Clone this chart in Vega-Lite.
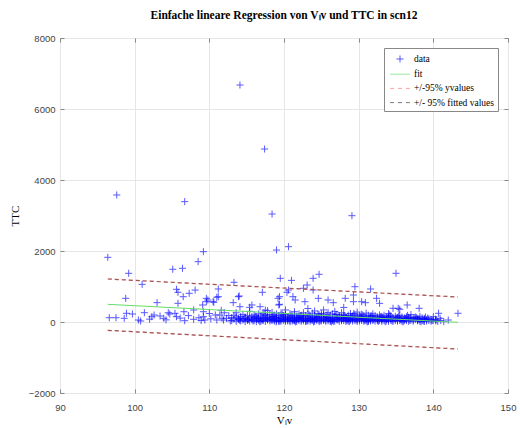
{
  "$schema": "https://vega.github.io/schema/vega-lite/v6.json",
  "width": 448,
  "height": 355,
  "autosize": {"type": "none"},
  "padding": {"left": 60, "top": 38, "right": 12, "bottom": 35},
  "background": "white",
  "title": {"text": "Einfache lineare Regression von Vₗv und TTC in scn12", "font": "Liberation Serif", "fontSize": 11.5, "fontWeight": "bold", "anchor": "middle", "offset": 12, "color": "#000"},
  "config": {
    "view": {"stroke": "#888", "strokeWidth": 1},
    "axis": {"grid": true, "gridColor": "#e6e6e6", "domain": false, "ticks": false, "tickColor": "#888", "labelFont": "Liberation Sans", "labelFontSize": 9.5, "labelColor": "#444", "labelFlush": false, "titleFont": "Liberation Serif", "titleFontSize": 11, "titleFontWeight": "normal", "titleColor": "#000"},
    "legend": {"orient": "top-right", "offset": 10, "padding": 3, "strokeColor": "#888", "fillColor": "white", "labelFont": "Liberation Serif", "labelFontSize": 9.5, "labelColor": "#000", "symbolSize": 200, "symbolStrokeWidth": 1, "rowPadding": 1.2, "symbolOffset": 5, "labelOffset": 6}
  },
  "datasets": {
    "pts": [
      {"v":96.4,"t":1822},{"v":97.6,"t":3578},{"v":99.2,"t":1371},{"v":101.0,"t":1061},{"v":98.8,"t":667},{"v":103.0,"t":545},{"v":105.1,"t":1485},{"v":106.4,"t":1513},{"v":106.7,"t":3390},{"v":108.5,"t":1700},{"v":109.2,"t":1980},{"v":114.1,"t":6676},{"v":117.4,"t":4873},{"v":118.4,"t":3042},{"v":119.0,"t":2028},{"v":120.6,"t":2122},{"v":129.1,"t":2995},{"v":113.3,"t":1118},{"v":111.2,"t":930},{"v":105.6,"t":921},{"v":105.8,"t":837},{"v":107.3,"t":808},{"v":108.1,"t":900},{"v":106.5,"t":713},{"v":105.8,"t":526},{"v":109.6,"t":572},{"v":110.6,"t":555},{"v":111.0,"t":696},{"v":109.6,"t":667},{"v":113.2,"t":545},{"v":114.0,"t":732},{"v":115.7,"t":479},{"v":116.8,"t":431},{"v":117.1,"t":837},{"v":119.5,"t":1231},{"v":121.0,"t":1173},{"v":119.4,"t":713},{"v":120.6,"t":901},{"v":119.3,"t":479},{"v":123.9,"t":1231},{"v":124.7,"t":1344},{"v":135.0,"t":1372},{"v":122.6,"t":949},{"v":123.1,"t":1042},{"v":120.4,"t":837},{"v":129.5,"t":994},{"v":131.6,"t":930},{"v":123.9,"t":901},{"v":124.6,"t":667},{"v":121.2,"t":713},{"v":121.5,"t":620},{"v":122.8,"t":572},{"v":125.9,"t":620},{"v":126.6,"t":544},{"v":128.2,"t":667},{"v":129.3,"t":761},{"v":129.3,"t":572},{"v":130.4,"t":572},{"v":130.9,"t":544},{"v":132.4,"t":667},{"v":132.8,"t":526},{"v":134.6,"t":386},{"v":135.3,"t":386},{"v":136.5,"t":479},{"v":138.1,"t":386},{"v":140.7,"t":245},{"v":142.0,"t":56},{"v":143.3,"t":245},{"v":140.9,"t":104},{"v":140.0,"t":150},{"v":135.5,"t":357},
      {"v":96.6,"t":121},{"v":97.5,"t":121},{"v":98.9,"t":245},{"v":98.6,"t":104},{"v":99.7,"t":225},{"v":100.5,"t":56},{"v":100.8,"t":28},{"v":101.3,"t":262},{"v":102.3,"t":150},{"v":102.6,"t":197},{"v":103.4,"t":169},{"v":103.9,"t":104},{"v":104.5,"t":262},{"v":104.7,"t":225},{"v":105.4,"t":245},{"v":105.6,"t":150},
      {"v":106.6,"t":290},{"v":106.7,"t":37},{"v":107.9,"t":76},{"v":107.9,"t":338},{"v":109.1,"t":479},{"v":109.2,"t":290},{"v":109.2,"t":150},{"v":109.4,"t":56},{"v":109.8,"t":620},{"v":110.5,"t":572},{"v":110.8,"t":197},{"v":111.0,"t":56},{"v":111.2,"t":713},{"v":111.4,"t":197},{"v":111.7,"t":104},{"v":111.9,"t":56},{"v":112.3,"t":104},{"v":113.9,"t":713},{"v":114.1,"t":431},{"v":115.4,"t":414},{"v":117.5,"t":338},{"v":119.2,"t":667},{"v":119.4,"t":498},{"v":108.6,"t":120},{"v":110.2,"t":90},{"v":112.6,"t":180},{"v":112.0,"t":260},{"v":107.2,"t":180},{"v":108.9,"t":40},{"v":110.0,"t":240},{"v":111.6,"t":330},{"v":112.8,"t":30},{"v":106.1,"t":110},{"v":104.2,"t":60},{"v":102.0,"t":80},
      {"v":113.0,"t":40},{"v":113.0,"t":120},{"v":113.3,"t":85},{"v":113.3,"t":190},{"v":113.6,"t":20},{"v":113.6,"t":140},{"v":113.6,"t":260},{"v":113.9,"t":70},{"v":113.9,"t":110},{"v":114.2,"t":30},{"v":114.2,"t":160},{"v":114.2,"t":95},{"v":114.5,"t":55},{"v":114.5,"t":210},{"v":114.8,"t":15},{"v":114.8,"t":100},{"v":114.8,"t":140},{"v":115.1,"t":75},{"v":115.1,"t":180},{"v":115.1,"t":45},{"v":115.4,"t":120},{"v":115.4,"t":25},{"v":115.4,"t":300},{"v":115.7,"t":60},{"v":115.7,"t":150},{"v":115.7,"t":90},{"v":116.0,"t":35},{"v":116.0,"t":110},{"v":116.0,"t":200},{"v":116.3,"t":80},{"v":116.3,"t":140},{"v":116.3,"t":10},{"v":116.6,"t":50},{"v":116.6,"t":230},{"v":116.6,"t":120},{"v":116.9,"t":95},{"v":116.9,"t":20},{"v":116.9,"t":170},
      {"v":117.2,"t":65},{"v":117.2,"t":130},{"v":117.2,"t":40},{"v":117.2,"t":250},{"v":117.5,"t":105},{"v":117.5,"t":15},{"v":117.5,"t":185},{"v":117.8,"t":55},{"v":117.8,"t":140},{"v":117.8,"t":80},{"v":117.8,"t":320},{"v":118.1,"t":30},{"v":118.1,"t":120},{"v":118.1,"t":210},{"v":118.1,"t":90},{"v":118.4,"t":70},{"v":118.4,"t":160},{"v":118.4,"t":45},{"v":118.4,"t":270},{"v":118.7,"t":110},{"v":118.7,"t":25},{"v":118.7,"t":190},{"v":118.7,"t":60},{"v":119.0,"t":85},{"v":119.0,"t":140},{"v":119.0,"t":35},{"v":119.0,"t":230},{"v":119.3,"t":50},{"v":119.3,"t":175},{"v":119.3,"t":100},{"v":119.3,"t":15},{"v":119.6,"t":125},{"v":119.6,"t":65},{"v":119.6,"t":260},{"v":119.6,"t":30},{"v":119.9,"t":90},{"v":119.9,"t":40},{"v":119.9,"t":180},{"v":119.9,"t":150},
      {"v":120.2,"t":20},{"v":120.2,"t":115},{"v":120.2,"t":210},{"v":120.2,"t":70},{"v":120.2,"t":340},{"v":120.5,"t":60},{"v":120.5,"t":145},{"v":120.5,"t":95},{"v":120.5,"t":30},{"v":120.8,"t":135},{"v":120.8,"t":45},{"v":120.8,"t":240},{"v":120.8,"t":10},{"v":121.1,"t":80},{"v":121.1,"t":170},{"v":121.1,"t":25},{"v":121.1,"t":110},{"v":121.4,"t":55},{"v":121.4,"t":200},{"v":121.4,"t":130},{"v":121.4,"t":35},{"v":121.4,"t":290},{"v":121.7,"t":100},{"v":121.7,"t":15},{"v":121.7,"t":160},{"v":121.7,"t":70},{"v":122.0,"t":40},{"v":122.0,"t":120},{"v":122.0,"t":230},{"v":122.0,"t":85},{"v":122.3,"t":130},{"v":122.3,"t":60},{"v":122.3,"t":20},{"v":122.3,"t":190},{"v":122.6,"t":75},{"v":122.6,"t":150},{"v":122.6,"t":35},{"v":122.6,"t":260},{"v":122.6,"t":110},{"v":122.9,"t":95},{"v":122.9,"t":45},{"v":122.9,"t":180},{"v":122.9,"t":15},
      {"v":123.2,"t":60},{"v":123.2,"t":140},{"v":123.2,"t":220},{"v":123.2,"t":30},{"v":123.2,"t":380},{"v":123.5,"t":105},{"v":123.5,"t":25},{"v":123.5,"t":170},{"v":123.5,"t":80},{"v":123.8,"t":50},{"v":123.8,"t":135},{"v":123.8,"t":250},{"v":123.8,"t":90},{"v":124.1,"t":20},{"v":124.1,"t":115},{"v":124.1,"t":185},{"v":124.1,"t":65},{"v":124.1,"t":310},{"v":124.4,"t":85},{"v":124.4,"t":40},{"v":124.4,"t":155},{"v":124.4,"t":120},{"v":124.7,"t":60},{"v":124.7,"t":205},{"v":124.7,"t":10},{"v":124.7,"t":140},{"v":125.0,"t":95},{"v":125.0,"t":30},{"v":125.0,"t":175},{"v":125.0,"t":240},{"v":125.3,"t":45},{"v":125.3,"t":130},{"v":125.3,"t":75},{"v":125.3,"t":200},{"v":125.3,"t":340},{"v":125.6,"t":110},{"v":125.6,"t":20},{"v":125.6,"t":165},{"v":125.6,"t":55},{"v":125.9,"t":80},{"v":125.9,"t":140},{"v":125.9,"t":35},{"v":125.9,"t":270},
      {"v":126.2,"t":50},{"v":126.2,"t":190},{"v":126.2,"t":100},{"v":126.2,"t":15},{"v":126.5,"t":125},{"v":126.5,"t":65},{"v":126.5,"t":230},{"v":126.5,"t":40},{"v":126.8,"t":90},{"v":126.8,"t":25},{"v":126.8,"t":155},{"v":126.8,"t":300},{"v":127.1,"t":55},{"v":127.1,"t":120},{"v":127.1,"t":210},{"v":127.1,"t":80},{"v":127.4,"t":20},{"v":127.4,"t":145},{"v":127.4,"t":100},{"v":127.4,"t":180},{"v":127.7,"t":70},{"v":127.7,"t":35},{"v":127.7,"t":260},{"v":127.7,"t":125},{"v":128.0,"t":40},{"v":128.0,"t":160},{"v":128.0,"t":95},{"v":128.0,"t":215},{"v":128.0,"t":410},{"v":128.3,"t":110},{"v":128.3,"t":15},{"v":128.3,"t":140},{"v":128.3,"t":60},{"v":128.6,"t":80},{"v":128.6,"t":190},{"v":128.6,"t":30},{"v":128.6,"t":120},{"v":128.9,"t":50},{"v":128.9,"t":150},{"v":128.9,"t":240},{"v":128.9,"t":95},
      {"v":129.2,"t":25},{"v":129.2,"t":115},{"v":129.2,"t":175},{"v":129.2,"t":70},{"v":129.5,"t":90},{"v":129.5,"t":40},{"v":129.5,"t":200},{"v":129.5,"t":135},{"v":129.8,"t":60},{"v":129.8,"t":150},{"v":129.8,"t":15},{"v":129.8,"t":280},{"v":130.1,"t":105},{"v":130.1,"t":30},{"v":130.1,"t":180},{"v":130.1,"t":75},{"v":130.4,"t":45},{"v":130.4,"t":130},{"v":130.4,"t":90},{"v":130.4,"t":220},{"v":130.7,"t":70},{"v":130.7,"t":20},{"v":130.7,"t":160},{"v":130.7,"t":110},{"v":131.0,"t":35},{"v":131.0,"t":140},{"v":131.0,"t":250},{"v":131.0,"t":85},{"v":131.3,"t":95},{"v":131.3,"t":50},{"v":131.3,"t":190},{"v":131.3,"t":15},{"v":131.6,"t":60},{"v":131.6,"t":120},{"v":131.6,"t":30},{"v":131.6,"t":170},{"v":131.9,"t":80},{"v":131.9,"t":140},{"v":131.9,"t":40},{"v":131.9,"t":230},
      {"v":132.2,"t":25},{"v":132.2,"t":110},{"v":132.2,"t":180},{"v":132.5,"t":65},{"v":132.5,"t":150},{"v":132.5,"t":35},{"v":132.5,"t":95},{"v":132.8,"t":45},{"v":132.8,"t":120},{"v":132.8,"t":200},{"v":133.1,"t":85},{"v":133.1,"t":20},{"v":133.1,"t":160},{"v":133.1,"t":60},{"v":133.4,"t":110},{"v":133.4,"t":40},{"v":133.4,"t":190},{"v":133.7,"t":30},{"v":133.7,"t":130},{"v":133.7,"t":75},{"v":134.0,"t":70},{"v":134.0,"t":155},{"v":134.0,"t":20},{"v":134.0,"t":240},{"v":134.3,"t":50},{"v":134.3,"t":100},{"v":134.3,"t":175},{"v":134.6,"t":15},{"v":134.6,"t":120},{"v":134.6,"t":80},{"v":134.9,"t":90},{"v":134.9,"t":40},{"v":134.9,"t":160},{"v":135.2,"t":60},{"v":135.2,"t":130},{"v":135.2,"t":25},{"v":135.5,"t":100},{"v":135.5,"t":45},{"v":135.5,"t":190},{"v":135.8,"t":20},{"v":135.8,"t":80},{"v":135.8,"t":140},
      {"v":136.1,"t":65},{"v":136.1,"t":115},{"v":136.1,"t":35},{"v":136.4,"t":40},{"v":136.4,"t":150},{"v":136.4,"t":90},{"v":136.7,"t":85},{"v":136.7,"t":20},{"v":136.7,"t":130},{"v":137.0,"t":55},{"v":137.0,"t":110},{"v":137.0,"t":210},{"v":137.3,"t":25},{"v":137.3,"t":90},{"v":137.3,"t":60},{"v":137.6,"t":70},{"v":137.6,"t":140},{"v":137.9,"t":35},{"v":137.9,"t":100},{"v":137.9,"t":50},{"v":138.2,"t":80},{"v":138.2,"t":20},{"v":138.2,"t":160},{"v":138.5,"t":45},{"v":138.5,"t":120},{"v":138.8,"t":15},{"v":138.8,"t":75},{"v":138.8,"t":100},{"v":139.1,"t":60},{"v":139.1,"t":30},{"v":139.4,"t":90},{"v":139.4,"t":45},{"v":139.7,"t":20},{"v":139.7,"t":70},{"v":140.0,"t":50},{"v":140.3,"t":35},{"v":140.3,"t":80},{"v":140.6,"t":15},{"v":141.0,"t":40},{"v":141.4,"t":10},
      {"v":115.25,"t":70},{"v":115.85,"t":30},{"v":116.45,"t":95},{"v":117.05,"t":55},{"v":117.65,"t":110},{"v":118.25,"t":60},{"v":118.85,"t":125},{"v":119.45,"t":20},{"v":120.05,"t":80},{"v":120.65,"t":105},{"v":121.25,"t":50},{"v":121.85,"t":120},{"v":122.45,"t":90},{"v":123.05,"t":25},{"v":123.65,"t":60},{"v":124.25,"t":100},{"v":124.85,"t":40},{"v":125.45,"t":85},{"v":126.05,"t":130},{"v":126.65,"t":20},{"v":127.25,"t":70},{"v":127.85,"t":100},{"v":128.45,"t":45},{"v":129.05,"t":130},{"v":129.65,"t":65},{"v":130.25,"t":150},{"v":130.85,"t":45},{"v":131.45,"t":110},{"v":132.05,"t":70},{"v":132.65,"t":20},{"v":133.25,"t":130},{"v":133.85,"t":95},{"v":134.45,"t":35},{"v":135.05,"t":110},{"v":135.65,"t":60},{"v":136.25,"t":90},{"v":136.85,"t":45},{"v":137.45,"t":115},{"v":138.05,"t":75},{"v":138.65,"t":30},{"v":139.25,"t":110},{"v":139.85,"t":40},{"v":140.45,"t":60},
      {"v":116.15,"t":165},{"v":117.35,"t":205},{"v":118.55,"t":150},{"v":119.75,"t":220},{"v":120.95,"t":190},{"v":122.15,"t":170},{"v":123.35,"t":200},{"v":124.55,"t":230},{"v":125.75,"t":190},{"v":126.95,"t":210},{"v":128.15,"t":180},{"v":129.35,"t":240},{"v":130.55,"t":195},{"v":131.75,"t":175},{"v":132.95,"t":150},{"v":134.15,"t":200},{"v":135.35,"t":165},{"v":136.55,"t":185},{"v":137.75,"t":120},{"v":138.95,"t":140},
      {"v":114.05,"t":50},{"v":114.65,"t":80},{"v":116.75,"t":10},{"v":118.95,"t":5},{"v":121.55,"t":5},{"v":123.95,"t":5},{"v":126.35,"t":5},{"v":128.75,"t":10},{"v":131.15,"t":5},{"v":133.55,"t":10},{"v":135.95,"t":5},{"v":138.35,"t":5}
    ],
    "fit": [{"v":96.4,"t":498},{"v":143.3,"t":-10}],
    "bnd": [{"v":96.4,"t":1211,"b":"u"},{"v":143.3,"t":704,"b":"u"},{"v":96.4,"t":-235,"b":"l"},{"v":143.3,"t":-761,"b":"l"}]
  },
  "resolve": {"axis": {"x": "independent", "y": "independent"}},
  "layer": [
    {
      "data": {"name": "pts"},
      "mark": {"type": "point", "filled": false, "size": 200, "strokeWidth": 1, "opacity": 0.65},
      "encoding": {
        "x": {"field": "v", "type": "quantitative", "scale": {"domain": [90, 150], "nice": false, "zero": false}, "axis": {"values": [90, 100, 110, 120, 130, 140, 150], "title": "Vₗv", "labelPadding": 9, "titlePadding": 3}},
        "y": {"field": "t", "type": "quantitative", "scale": {"domain": [-2000, 8000], "nice": false, "zero": false}, "axis": {"values": [-2000, 0, 2000, 4000, 6000, 8000], "format": "d", "title": "TTC", "labelPadding": 5, "titlePadding": 8}},
        "color": {"datum": "data", "type": "nominal", "scale": {"domain": ["data", "fit", "+/-95% yvalues", "+/- 95% fitted values"], "range": ["#0000ff", "#66dd66", "#ff7070", "#333333"]}, "legend": {"title": null}},
        "shape": {"datum": "data", "type": "nominal", "scale": {"domain": ["data", "fit", "+/-95% yvalues", "+/- 95% fitted values"], "range": ["M-0.5,0H0.5M0,-0.5V0.5", "M-1.4,0H1.4", "M-1.4,0H-0.85M-0.3,0H0.3M0.85,0H1.4", "M-1.4,0H-0.85M-0.3,0H0.3M0.85,0H1.4"]}, "legend": {"title": null}}
      }
    },
    {
      "data": {"name": "fit"},
      "mark": {"type": "line", "strokeWidth": 1},
      "encoding": {
        "x": {"field": "v", "type": "quantitative", "axis": {"orient": "top", "values": [90, 100, 110, 120, 130, 140, 150], "labels": false, "grid": false, "ticks": true, "tickSize": 4, "offset": -4, "title": null}},
        "y": {"field": "t", "type": "quantitative", "axis": {"orient": "right", "values": [-2000, 0, 2000, 4000, 6000, 8000], "labels": false, "grid": false, "ticks": true, "tickSize": 4, "offset": -4, "title": null}},
        "color": {"datum": "fit", "type": "nominal"}
      }
    },
    {
      "data": {"name": "bnd"},
      "mark": {"type": "line", "strokeWidth": 1.2, "strokeDash": [4, 3]},
      "encoding": {
        "x": {"field": "v", "type": "quantitative", "axis": {"orient": "bottom", "values": [90, 100, 110, 120, 130, 140, 150], "labels": false, "grid": false, "ticks": true, "tickSize": 4, "offset": -4, "title": null}},
        "y": {"field": "t", "type": "quantitative", "axis": {"orient": "left", "values": [-2000, 0, 2000, 4000, 6000, 8000], "labels": false, "grid": false, "ticks": true, "tickSize": 4, "offset": -4, "title": null}},
        "detail": {"field": "b"},
        "color": {"datum": "+/-95% yvalues", "type": "nominal"}
      }
    },
    {
      "data": {"name": "bnd"},
      "mark": {"type": "line", "strokeWidth": 1.2, "strokeDash": [4, 3], "opacity": 0.45},
      "encoding": {
        "x": {"field": "v", "type": "quantitative", "axis": null},
        "y": {"field": "t", "type": "quantitative", "axis": null},
        "detail": {"field": "b"},
        "color": {"datum": "+/- 95% fitted values", "type": "nominal"}
      }
    }
  ]
}
